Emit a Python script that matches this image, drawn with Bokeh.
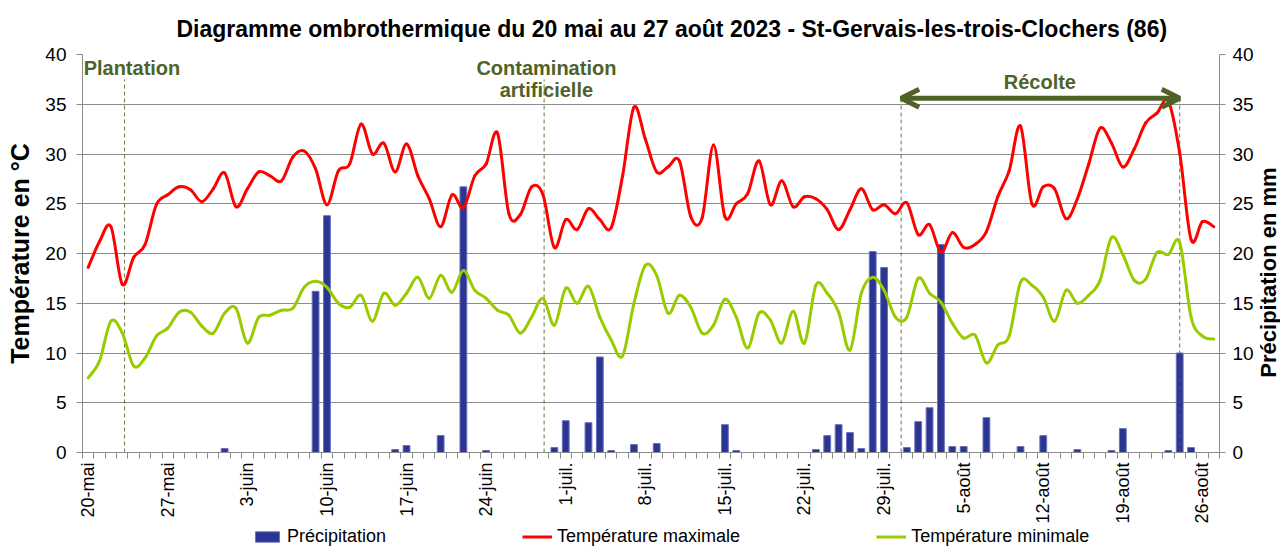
import math
import numpy as np
import pandas as pd
from bokeh.plotting import figure
from bokeh.layouts import column, row
from bokeh.models import (Range1d, LinearAxis, FixedTicker, Label, Arrow, OpenHead,
                          Legend, LegendItem, ColumnDataSource, Title)
from bokeh.embed import file_html
from bokeh.resources import INLINE

# ---------------- data ----------------
start_date = "2023-05-20"
dates = pd.date_range(start_date, periods=100, freq="D")
days = list(range(len(dates)))

tmax = [18.6, 21.2, 22.7, 16.9, 19.6, 20.9, 24.9, 25.9, 26.7, 26.4,
        25.2, 26.5, 28.1, 24.7, 26.5, 28.2, 27.8, 27.3, 29.7, 30.3,
        28.5, 24.9, 28.3, 29.0, 33.0, 30.0, 31.1, 28.2, 31.0, 27.8,
        25.5, 22.7, 25.9, 24.6, 27.8, 29.0, 32.1, 24.0, 23.9, 26.7,
        25.9, 20.6, 23.4, 22.4, 24.5, 23.4, 22.6, 27.8, 34.7, 31.5,
        28.2, 28.7, 29.3, 23.7, 23.6, 30.9, 23.7, 25.0, 26.0, 29.3,
        24.9, 27.3, 24.7, 25.7, 25.5, 24.4, 22.4, 24.4, 26.5, 24.4,
        24.9, 24.0, 25.1, 21.9, 22.9, 20.1, 22.1, 20.6, 20.9, 22.2,
        25.7, 28.3, 32.8, 25.0, 26.7, 26.5, 23.5, 25.5, 29.0, 32.6,
        31.1, 28.7, 30.5, 33.1, 34.1, 35.3, 30.1, 21.4, 23.2, 22.7]

tmin = [7.5, 9.2, 13.2, 12.0, 8.7, 9.5, 11.7, 12.5, 14.1, 14.1,
        12.7, 12.0, 14.0, 14.5, 11.0, 13.6, 13.8, 14.3, 14.5, 16.6,
        17.2, 16.6, 15.0, 14.6, 15.8, 13.2, 16.0, 14.8, 16.0, 17.6,
        15.5, 17.8, 16.1, 18.3, 16.3, 15.5, 14.3, 13.8, 12.0, 13.6,
        15.5, 12.8, 16.5, 15.0, 16.7, 13.6, 11.3, 9.7, 15.0, 18.8,
        17.8, 14.0, 15.8, 14.6, 12.0, 12.8, 15.4, 13.6, 10.5, 14.0,
        13.3, 11.0, 14.2, 11.0, 16.8, 16.0, 14.1, 10.3, 16.0, 17.6,
        16.3, 13.6, 13.6, 17.5, 16.0, 15.1, 13.0, 11.5, 11.8, 9.0,
        10.8, 11.7, 17.1, 16.8, 15.6, 13.2, 16.3, 15.0, 15.8, 17.3,
        21.6, 19.9, 17.3, 17.4, 20.1, 19.9, 21.1, 13.6, 11.7, 11.4]

precip = [0, 0, 0, 0, 0, 0, 0, 0, 0, 0,
          0, 0, 0.4, 0, 0, 0, 0, 0, 0, 0,
          16.2, 23.8, 0, 0, 0, 0, 0, 0.3, 0.7, 0,
          0, 1.7, 0, 26.7, 0, 0.2, 0, 0, 0, 0,
          0, 0.5, 3.2, 0, 3.0, 9.6, 0.2, 0, 0.8, 0,
          0.9, 0, 0, 0, 0, 0, 2.8, 0.2, 0, 0,
          0, 0, 0, 0, 0.3, 1.7, 2.8, 2.0, 0.4, 20.2,
          18.6, 0, 0.5, 3.1, 4.5, 20.9, 0.6, 0.6, 0, 3.5,
          0, 0, 0.6, 0, 1.7, 0, 0, 0.3, 0, 0,
          0.2, 2.4, 0, 0, 0, 0.2, 10.0, 0.5, 0, 0]

tick_days = [0, 7, 14, 21, 28, 35, 42, 49, 56, 63, 70, 77, 84, 91, 98]
tick_labels = ["20-mai", "27-mai", "3-juin", "10-juin", "17-juin", "24-juin",
               "1-juil.", "8-juil.", "15-juil.", "22-juil.", "29-juil.",
               "5-août", "12-août", "19-août", "26-août"]
y_ticks = [0, 5, 10, 15, 20, 25, 30, 35, 40]

series_names = ["Précipitation", "Température maximale", "Température minimale"]
left_title = "Température en °C"
right_title = "Précipitation en mm"

# event markers (day position, top of dashed line)
event_names = ["Plantation", "Contamination artificielle", "Récolte début", "Récolte fin"]
event_day = [3.2, 40.1, 71.5, 96.0]
event_top = [37.5, 37.5, 35.6, 35.6]

title_text = "Diagramme ombrothermique du 20 mai au 27 août 2023 - St-Gervais-les-trois-Clochers (86)"

# ---------------- style ----------------
FONT = "Liberation Sans"
OLIVE = "#4F6228"
GRID = "#8C8C8C"
RED = "#FF0000"
GREEN = "#99CC00"
BAR_FILL = "#2B3592"
BAR_LINE = "#6C72BE"

MAIN_W, MAIN_H, STRIP_W, LEG_H = 1256, 526, 24, 21


def smooth_segments(xs, ys):
    n = len(ys)
    d = dict(x0=[], y0=[], x1=[], y1=[], cx0=[], cy0=[], cx1=[], cy1=[])
    for i in range(n - 1):
        im, ip = max(i - 1, 0), min(i + 2, n - 1)
        d["x0"].append(xs[i]); d["y0"].append(ys[i])
        d["x1"].append(xs[i + 1]); d["y1"].append(ys[i + 1])
        d["cx0"].append(xs[i] + (xs[i + 1] - xs[im]) / 6)
        d["cy0"].append(ys[i] + (ys[i + 1] - ys[im]) / 6)
        d["cx1"].append(xs[i + 1] - (xs[ip] - xs[i]) / 6)
        d["cy1"].append(ys[i + 1] - (ys[ip] - ys[i]) / 6)
    return ColumnDataSource(d)


p = figure(width=MAIN_W, height=MAIN_H, output_backend="svg", toolbar_location=None,
           x_range=Range1d(-0.5, len(days) - 0.5), y_range=Range1d(0, 40),
           min_border_left=82, min_border_right=36, min_border_top=52, min_border_bottom=72)
p.outline_line_color = None
p.background_fill_color = "white"
p.border_fill_color = "white"
p.extra_y_ranges = {"precip": Range1d(0, 40)}

p.title = Title(text=title_text, align="left", offset=94, standoff=26,
                text_font=FONT, text_font_size="23px", text_font_style="bold",
                text_color="black")

# axes
p.xaxis.ticker = FixedTicker(ticks=tick_days, minor_ticks=[d - 0.5 for d in range(len(days) + 1)])
p.xaxis.major_label_overrides = {d: l for d, l in zip(tick_days, tick_labels)}
p.xaxis.major_label_orientation = math.pi / 2
p.xaxis.major_tick_line_color = None
p.xaxis.minor_tick_out = 6
p.xaxis.minor_tick_in = 0
p.xaxis.minor_tick_line_color = GRID
p.xaxis.axis_line_color = GRID
p.xaxis.major_label_text_font = FONT
p.xaxis.major_label_text_font_size = "18px"
p.xaxis.major_label_text_color = "black"
p.xaxis.major_label_standoff = 4

p.yaxis.ticker = FixedTicker(ticks=y_ticks)
p.yaxis.minor_tick_line_color = None
p.yaxis.major_tick_out = 6
p.yaxis.major_tick_in = 0
p.yaxis.major_tick_line_color = GRID
p.yaxis.axis_line_color = GRID
p.yaxis.major_label_text_font = FONT
p.yaxis.major_label_text_font_size = "19px"
p.yaxis.major_label_text_color = "black"
p.yaxis.major_label_standoff = 10
p.yaxis.axis_label = left_title
p.yaxis.axis_label_text_font = FONT
p.yaxis.axis_label_text_font_style = "bold"
p.yaxis.axis_label_text_font_size = "25px"
p.yaxis.axis_label_text_color = "black"
p.yaxis.axis_label_standoff = 8

ry = LinearAxis(y_range_name="precip", ticker=FixedTicker(ticks=y_ticks))
ry.minor_tick_line_color = None
ry.major_tick_out = 6
ry.major_tick_in = 0
ry.major_tick_line_color = GRID
ry.axis_line_color = GRID
ry.major_label_text_font = FONT
ry.major_label_text_font_size = "19px"
ry.major_label_text_color = "black"
ry.major_label_standoff = 7
p.add_layout(ry, "right")

p.xgrid.grid_line_color = None
p.ygrid.grid_line_color = GRID
p.ygrid.grid_line_width = 1

# bars
src = ColumnDataSource(dict(day=days, precip=precip, tmax=tmax, tmin=tmin))
p.vbar(x="day", top="precip", width=0.6, source=src, y_range_name="precip",
       fill_color=BAR_FILL, line_color=BAR_LINE, line_width=1)

# event dashed lines
ev = ColumnDataSource(dict(x=event_day, top=event_top, zero=[0] * len(event_day)))
p.segment(x0="x", y0="zero", x1="x", y1="top", source=ev, line_color=OLIVE,
          line_dash="4 3", line_width=1, line_alpha=0.85)

# smoothed lines
p.bezier(x0="x0", y0="y0", x1="x1", y1="y1", cx0="cx0", cy0="cy0", cx1="cx1", cy1="cy1",
         source=smooth_segments(days, tmin), line_color=GREEN, line_width=3, line_cap="round")
p.bezier(x0="x0", y0="y0", x1="x1", y1="y1", cx0="cx0", cy0="cy0", cx1="cx1", cy1="cy1",
         source=smooth_segments(days, tmax), line_color=RED, line_width=3, line_cap="round")

# arrow for harvest period
p.add_layout(Arrow(x_start=event_day[2], y_start=event_top[2], x_end=event_day[3], y_end=event_top[3],
                   line_color=OLIVE, line_width=5,
                   start=OpenHead(size=18, line_color=OLIVE, line_width=5),
                   end=OpenHead(size=18, line_color=OLIVE, line_width=5)))

# annotation texts
def lab(x, y, text, align="center", size="20px"):
    p.add_layout(Label(x=x, y=y, text=text, text_align=align, text_baseline="middle",
                       text_font=FONT, text_font_size=size, text_font_style="bold",
                       text_color=OLIVE))

lab(-0.4, 38.6, "Plantation", align="left")
lab(40.3, 38.6, "Contamination")
lab(40.3, 36.4, "artificielle")
lab(83.7, 37.2, "Récolte")

# ---------------- legend strip ----------------
lg = figure(width=MAIN_W, height=LEG_H, output_backend="svg", toolbar_location=None,
            x_range=Range1d(0, 1), y_range=Range1d(0, 1),
            x_axis_type=None, y_axis_type=None,
            min_border_left=0, min_border_right=0, min_border_top=0, min_border_bottom=0)
lg.outline_line_color = None
lg.xgrid.grid_line_color = None
lg.ygrid.grid_line_color = None
lg.border_fill_color = "white"
nan_src = ColumnDataSource(dict(x=np.array([np.nan]), y=np.array([np.nan])))
lb = lg.vbar(x="x", top="y", width=0.1, source=nan_src, fill_color=BAR_FILL,
             line_color=BAR_LINE, line_width=1)
lmax = lg.line(x="x", y="y", source=nan_src, line_color=RED, line_width=3)
lmin = lg.line(x="x", y="y", source=nan_src, line_color=GREEN, line_width=3)

legend = Legend(items=[LegendItem(label=series_names[0], renderers=[lb]),
                       LegendItem(label=series_names[1], renderers=[lmax]),
                       LegendItem(label=series_names[2], renderers=[lmin])],
                orientation="horizontal", location=(170, 0), spacing=136,
                glyph_width=30, glyph_height=13, label_standoff=5, padding=0, margin=0,
                border_line_color=None, background_fill_alpha=0,
                label_text_font=FONT, label_text_font_size="18px", label_text_color="black")
lg.add_layout(legend, "center")

# ---------------- right axis title strip ----------------
total_h = MAIN_H + LEG_H
st = figure(width=STRIP_W, height=total_h, output_backend="svg", toolbar_location=None,
            x_range=Range1d(0, STRIP_W), y_range=Range1d(0, total_h),
            x_axis_type=None, y_axis_type=None,
            min_border_left=0, min_border_right=0, min_border_top=0, min_border_bottom=0)
st.outline_line_color = None
st.xgrid.grid_line_color = None
st.ygrid.grid_line_color = None
st.add_layout(Label(x=12, y=total_h - 272, text=right_title, angle=math.pi / 2,
                    text_align="center", text_baseline="middle", text_font=FONT,
                    text_font_size="22px", text_font_style="bold", text_color="black"))

open("out.html", "w").write(file_html(row(column(p, lg, spacing=0), st, spacing=0), INLINE))
